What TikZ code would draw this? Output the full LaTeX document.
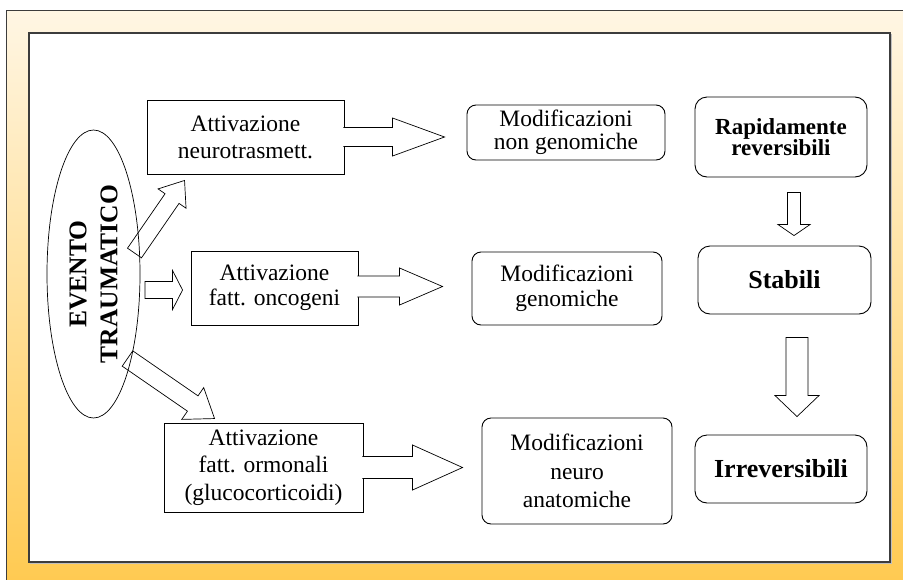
\documentclass[tikz,border=0pt]{standalone}
\usepackage{fontspec}
\setmainfont{Liberation Serif}
\usetikzlibrary{calc,shapes.geometric}
\definecolor{framelight}{HTML}{FFF6E4}
\definecolor{framedark}{HTML}{FFC94E}
\definecolor{framegray}{HTML}{3C3C3C}
\tikzset{
  attbox/.style={draw,fill=white,line width=0.9pt,align=center,inner sep=0pt,font=\fontsize{23.5}{27}\selectfont},
  modbox/.style={attbox,rounded corners=9pt},
  resbox/.style={attbox,rounded corners=12pt,font=\bfseries\fontsize{26}{29}\selectfont},
  fatline/.style={draw,fill=white,line width=0.7pt,line join=miter}
}
\newcommand{\fatarrow}[6][]{%
  \coordinate (fa0) at (#2);
  \coordinate (fa1) at (#3);
  \coordinate (fab) at ($(fa1)!#6!(fa0)$);
  \draw[fatline] ($(fa0)!#4!90:(fa1)$) -- ($(fab)!#4!-90:(fa0)$) -- ($(fab)!#5!-90:(fa0)$) -- (fa1)
    -- ($(fab)!#5!90:(fa0)$) -- ($(fab)!#4!90:(fa0)$) -- ($(fa0)!#4!-90:(fa1)$) #1;
}

\begin{document}
\begin{tikzpicture}[x=1pt,y=-1pt]
      \useasboundingbox (0,0) rectangle (903,579);
      \fill[white] (0,0) rectangle (903,579);
      \draw[framegray,line width=0.8pt,top color=framelight,bottom color=framedark] (6,10) rectangle (915,595);
      \draw[black!25,line width=1pt] (30.5,34.5) rectangle (891.5,563.5);
      \draw[framegray,line width=1.2pt,fill=white] (29,33) rectangle (890,562);

      \node[attbox,minimum width=197pt,minimum height=74pt] (a1) at (245.5,137) {Attivazione\\neurotrasmett.};
      \node[attbox,minimum width=167pt,minimum height=74pt,font=\fontsize{23.5}{25}\selectfont] (a2) at (274.5,288) {Attivazione\\fatt. oncogeni};
      \node[attbox,minimum width=199pt,minimum height=89pt,font=\fontsize{23.5}{27.5}\selectfont] (a3) at (263.5,467.5) {Attivazione\\fatt. ormonali\\(glucocorticoidi)};

      \node[modbox,minimum width=198pt,minimum height=55pt,font=\fontsize{23.5}{22.5}\selectfont] (m1) at (566,132.5) {Modificazioni\\non genomiche};
      \node[modbox,minimum width=190pt,minimum height=73pt,font=\fontsize{23.5}{25}\selectfont] (m2) at (567,288.5) {Modificazioni\\genomiche};
      \node[modbox,minimum width=190pt,minimum height=106pt,font=\fontsize{23.5}{28.5}\selectfont] (m3) at (577,471) {Modificazioni\\neuro\\anatomiche};

      \node[resbox,minimum width=172pt,minimum height=80pt,font=\bfseries\fontsize{23}{21.5}\selectfont] (r1) at (781,137) {Rapidamente\\reversibili};
      \node[resbox,minimum width=173pt,minimum height=68pt] (r2) at (784.5,280) {Stabili};
      \node[resbox,minimum width=172pt,minimum height=68pt] (r3) at (781,469) {Irreversibili};

      \fatarrow{$(a1.east)+(-1,0)$}{$(a1.east -| m1.west)+(-22,0)$}{9.5pt}{19pt}{52pt}
      \fatarrow{$(a2.east)+(-1,-1.5)$}{$(a2.east -| m2.west)+(-29,-1.5)$}{10.5pt}{18.5pt}{43pt}
      \fatarrow{$(a3.east)+(-1,0)$}{$(a3.east -| m3.west)+(-19,0)$}{11pt}{22.5pt}{50pt}

      \fatarrow[-- cycle]{$(r1.south)+(13,15)$}{$(r2.north)+(9.5,-10)$}{6.5pt}{16pt}{11pt}
      \fatarrow[-- cycle]{$(r2.south)+(12.5,23)$}{$(r3.north)+(16,-18)$}{11pt}{22pt}{21pt}

      \node[ellipse,minimum width=93pt,minimum height=288pt,inner sep=0pt] (ev) at (93.5,274) {};
      \fatarrow[-- cycle]{$(ev.center)+(41,-21)$}{$(a1.south west)+(38,6)$}{8.5pt}{17pt}{22pt}
      \fatarrow[-- cycle]{$(ev.center)+(51.5,16)$}{$(a2.west)+(-8,2)$}{8.5pt}{19.5pt}{10pt}
      \fatarrow[-- cycle]{$(ev.center)+(34,84.5)$}{$(a3.north west)+(51,-4)$}{9.3pt}{19.3pt}{26.5pt}
      \draw[line width=0.7pt] (ev.center) ellipse [x radius=46.5pt,y radius=144pt];
      \node[rotate=90,align=center,font=\bfseries\fontsize{25.5}{31}\selectfont] (evtext) at (ev.center) {EVENTO\\TRAUMATICO};
\end{tikzpicture}
\end{document}
